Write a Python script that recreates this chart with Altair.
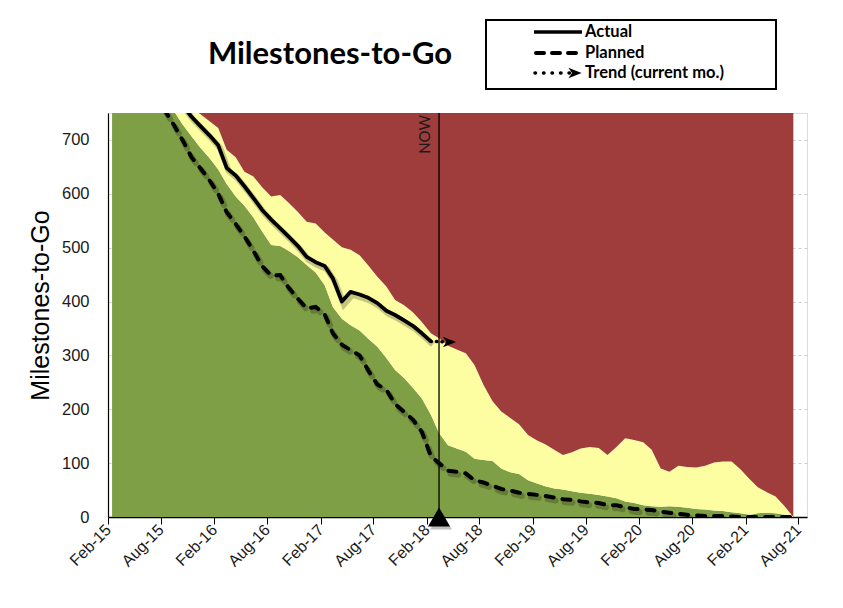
import altair as alt
import pandas as pd

# ---------------- data ----------------
months = pd.date_range("2015-02-15", periods=78, freq=pd.DateOffset(months=1)).strftime("%Y-%m-%d").tolist()

green_top = [930, 905, 880, 850, 825, 800, 775, 754, 729, 707,
             686, 667, 645, 618, 595, 578, 556, 530, 505, 503,
             494, 482, 468, 454, 430, 390, 368, 356, 346, 331,
             316, 295, 273, 258, 240, 220, 190, 156, 133, 127,
             121, 108, 106, 104, 90, 83, 80, 68, 62, 57,
             53, 51, 48, 45, 43, 41, 38, 35, 29, 26,
             22, 20, 19, 20, 19, 17, 15, 14, 12, 11,
             9, 7, 4, 7, 8, 7, 4, 0]

yellow_top = [990, 965, 940, 915, 890, 865, 840, 815, 790, 762,
              748, 735, 722, 682, 668, 641, 632, 612, 595, 598,
              583, 566, 548, 545, 528, 515, 501, 496, 486, 467,
              446, 428, 403, 393, 380, 362, 341, 332, 318, 311,
              304, 282, 245, 215, 196, 184, 172, 152, 142, 135,
              125, 115, 120, 127, 130, 128, 115, 130, 146, 143,
              139, 125, 90, 84, 95, 93, 92, 95, 101, 103,
              103, 88, 70, 55, 46, 38, 20, 0]

planned = [920, 890, 860, 830, 805, 780, 755, 728, 700, 668,
           648, 626, 600, 566, 544, 521, 494, 466, 448, 449,
           425, 405, 387, 390, 376, 341, 320, 310, 300, 272,
           246, 236, 210, 195, 181, 158, 113, 100, 86, 84,
           81, 68, 64, 58, 52, 49, 45, 43, 41, 39,
           36, 33, 32, 29, 27, 26, 22, 22, 18, 15,
           14, 13, 10, 8, 6, 4, 3, 2, 2, 2,
           1, 0, 0, 0, 0, 0, 0, 0]

actual = [1000, 970, 940, 910, 880, 850, 820, 790, 765, 743,
          726, 709, 690, 648, 634, 614, 592, 570, 552, 536,
          520, 503, 483, 473, 466, 443, 400, 418, 413, 407,
          397, 383, 375, 365, 355, 341, 326]

trend_dates = ["2018-02-15", "2018-04-08"]
trend_vals = [326, 325]
arrow_date = ["2018-04-20"]
arrow_val = [325]
now_date = ["2018-03-15"]

tick_years = [2015, 2015, 2016, 2016, 2017, 2017, 2018, 2018, 2019, 2019, 2020, 2020, 2021, 2021]
tick_months = [2, 8, 2, 8, 2, 8, 2, 8, 2, 8, 2, 8, 2, 8]
y_ticks = [0, 100, 200, 300, 400, 500, 600, 700]

legend_names = ["Actual", "Planned", "Trend (current mo.)"]

# ---------------- tables ----------------
bands = pd.DataFrame({"date": months, "green": green_top, "yellow": yellow_top, "planned": planned})
act = pd.DataFrame({"date": months[:len(actual)], "actual": actual})
trend = pd.DataFrame({"date": trend_dates, "v": trend_vals})
arrow = pd.DataFrame({"date": arrow_date, "v": arrow_val})
now = pd.DataFrame({"date": now_date, "label": ["NOW"]})

GREEN = "#7f9f46"
YELLOW = "#fdfda2"
RED = "#9f3d3c"
FONT = "Lato"
ARROW = "M-1,-0.8L1,0L-1,0.8L-0.45,0Z"

xscale = alt.Scale(type="utc",
                   domain=[alt.DateTime(year=2015, month=2, date=1, utc=True),
                           alt.DateTime(year=2021, month=8, date=31, utc=True)])
xaxis = alt.Axis(values=[alt.DateTime(year=y, month=m, date=1, utc=True) for y, m in zip(tick_years, tick_months)],
                 labelExpr="utcFormat(datum.value, '%b-%y')", labelAngle=315, labelAlign="right",
                 labelBaseline="middle", labelFontSize=16, labelPadding=3, labelColor="#1a1a1a",
                 tickSize=7, tickColor="black", domainColor="black", domainWidth=1.5,
                 grid=False, title=None)
X = alt.X("date:T", scale=xscale, axis=xaxis)

yscale = alt.Scale(domain=[0, 750], nice=False, zero=True)
yaxis = alt.Axis(values=y_ticks, grid=True, gridDash=[3, 3], gridColor="#cccccc",
                 ticks=False, labelPadding=19, labelFontSize=16.5, labelColor="#1a1a1a",
                 domainColor="black", domainWidth=1.2,
                 title="Milestones-to-Go", titleFontSize=25, titleFontWeight="normal",
                 titleColor="black", titleAngle=270, titleAlign="center", titleBaseline="middle",
                 titleX=-68, titleY=192)

base = alt.Chart(bands)

green = base.mark_area(color=GREEN, clip=True).encode(
    x=X, y=alt.Y("green:Q", scale=yscale, axis=yaxis))
yellow = base.mark_area(color=YELLOW, clip=True).encode(
    x="date:T", y="green:Q", y2="yellow:Q")
red = base.mark_area(color=RED, clip=True).encode(
    x="date:T", y="yellow:Q", y2=alt.datum(750))

planned_shadow = base.mark_line(color="black", opacity=0.22, strokeWidth=6, xOffset=2, yOffset=3,
                                strokeDash=[8, 9], strokeCap="round", clip=True).encode(
    x="date:T", y="planned:Q")
planned_line = base.mark_line(color="black", strokeWidth=4, strokeDash=[8, 9],
                              strokeCap="round", clip=True).encode(
    x="date:T", y="planned:Q")

actual_shadow = alt.Chart(act).mark_line(color="black", opacity=0.22, strokeWidth=6, xOffset=2,
                                         yOffset=3, clip=True).encode(x="date:T", y="actual:Q")
actual_line = alt.Chart(act).mark_line(color="black", strokeWidth=3.8, strokeJoin="round",
                                       clip=True).encode(x="date:T", y="actual:Q")

trend_line = alt.Chart(trend).mark_line(color="black", strokeWidth=3.5, strokeDash=[0.5, 5],
                                        strokeCap="round").encode(x="date:T", y="v:Q")
trend_arrow = alt.Chart(arrow).mark_point(shape=ARROW, filled=True, size=175, color="black",
                                          opacity=1).encode(x="date:T", y="v:Q")

now_rule = alt.Chart(now).mark_rule(color="black", strokeWidth=1.3).encode(
    x="date:T", y=alt.datum(0), y2=alt.datum(750))
now_text = alt.Chart(now).mark_text(angle=270, align="right", baseline="alphabetic",
                                    fontSize=15, font=FONT, xOffset=-9, color="#1a1a1a").encode(
    x="date:T", y=alt.value(2), text="label:N")
now_tri_shadow = alt.Chart(now).mark_point(shape="triangle-up", filled=True, size=484, color="black",
                                           opacity=0.25, xOffset=2, yOffset=3).encode(
    x="date:T", y=alt.datum(0))
now_tri = alt.Chart(now).mark_point(shape="triangle-up", filled=True, size=484, color="black",
                                    opacity=1).encode(x="date:T", y=alt.datum(0))

# ---------------- title & legend (pixel placement) ----------------
one = pd.DataFrame({"t": ["Milestones-to-Go"]})
title = alt.Chart(one).mark_text(fontSize=31, fontWeight="bold", font=FONT, align="center",
                                 baseline="middle", color="black").encode(
    x=alt.value(222), y=alt.value(-58), text="t:N")

legend_box = alt.Chart(one).mark_rect(fill="white", stroke="black", strokeWidth=2).encode(
    x=alt.value(378), x2=alt.value(668), y=alt.value(-93), y2=alt.value(-24))

leg_y = [-81, -60, -40]
leg_solid = alt.Chart(one).mark_rule(color="black", strokeWidth=3.5).encode(
    x=alt.value(426), x2=alt.value(474), y=alt.value(leg_y[0]))
leg_dash = alt.Chart(one).mark_rule(color="black", strokeWidth=4, strokeDash=[8, 8],
                                    strokeCap="round").encode(
    x=alt.value(428), x2=alt.value(474), y=alt.value(leg_y[1]))
leg_dot = alt.Chart(one).mark_rule(color="black", strokeWidth=3.5, strokeDash=[0.5, 8],
                                   strokeCap="round").encode(
    x=alt.value(427), x2=alt.value(462), y=alt.value(leg_y[2]))
leg_arrow = alt.Chart(one).mark_point(shape=ARROW, filled=True, size=175, color="black",
                                      opacity=1).encode(x=alt.value(467), y=alt.value(leg_y[2]))
leg_texts = [
    alt.Chart(pd.DataFrame({"name": [nm]})).mark_text(
        align="left", baseline="middle", fontSize=16.5, fontWeight="bold", font=FONT,
        color="black").encode(x=alt.value(477), y=alt.value(yy), text="name:N")
    for nm, yy in zip(legend_names, leg_y)
]

chart = alt.layer(
    green, yellow, red,
    planned_shadow, planned_line, actual_shadow, actual_line,
    trend_line, trend_arrow,
    now_rule, now_text, now_tri_shadow, now_tri,
    title, legend_box, leg_solid, leg_dash, leg_dot, leg_arrow, *leg_texts
).properties(
    width=699, height=404,
    autosize=alt.AutoSizeParams(type="none"),
    padding={"left": 100, "top": 105, "right": 28, "bottom": 80},
).configure_view(stroke=None).configure_axis(labelFont=FONT, titleFont=FONT).configure(
    background="white")

chart.save("out.html", embed_options={"renderer": "svg", "actions": False})
